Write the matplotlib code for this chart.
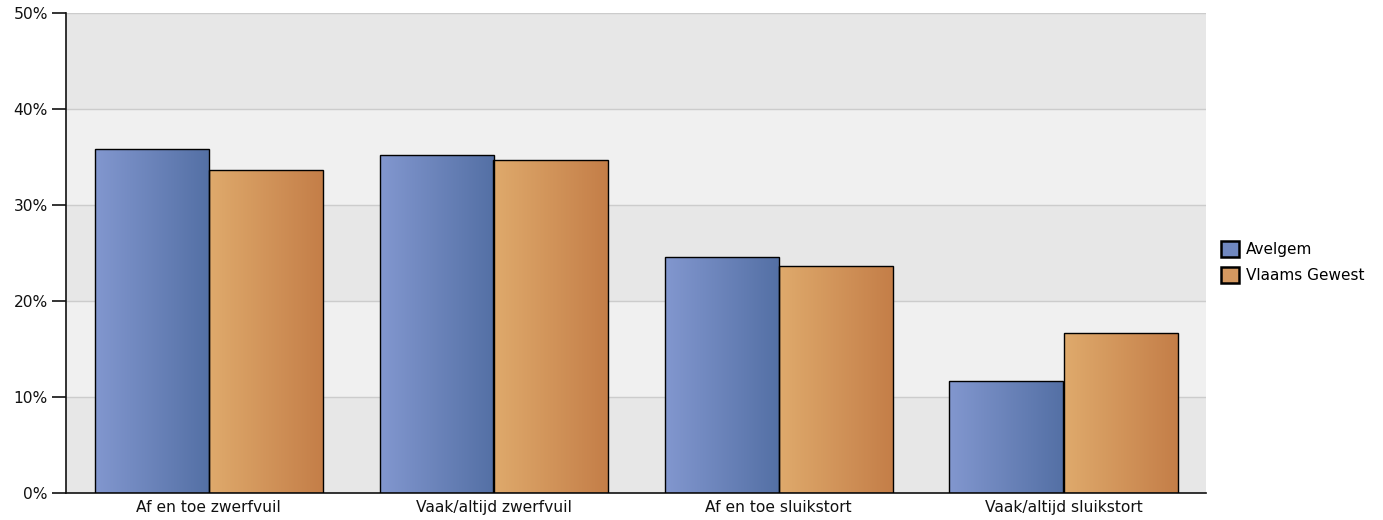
import matplotlib
matplotlib.use("Agg")
import matplotlib.pyplot as plt
import numpy as np
from matplotlib.colors import LinearSegmentedColormap
from matplotlib.patches import Patch

categories = ["Af en toe zwerfvuil", "Vaak/altijd zwerfvuil", "Af en toe sluikstort", "Vaak/altijd sluikstort"]
avelgem = [35.8, 35.2, 24.6, 11.7]
vlaams = [33.6, 34.7, 23.6, 16.7]
series_names = ["Avelgem", "Vlaams Gewest"]
yticks = [0, 10, 20, 30, 40, 50]
ytick_labels = ["0%", "10%", "20%", "30%", "40%", "50%"]

fig = plt.figure(figsize=(13.83, 5.2), dpi=100)
ax = fig.add_axes([66/1383, 1-493/520, (1206-66)/1383, (493-13)/520])

ax.set_xlim(-0.5, 3.5)
ax.set_ylim(0, 50)

# background bands
for i in range(5):
    ax.axhspan(i*10, (i+1)*10, color="#e7e7e7" if i % 2 == 0 else "#f0f0f0", zorder=0, lw=0)
for y in yticks[1:]:
    ax.axhline(y, color="#cccccc", lw=1, zorder=0.5)

x = np.arange(len(categories))
w = 0.4
cmap_b = LinearSegmentedColormap.from_list("b", ["#8297cf", "#5470a5"])
cmap_o = LinearSegmentedColormap.from_list("o", ["#dfaa6c", "#c47e48"])
grad = np.linspace(0, 1, 256).reshape(1, -1)

for vals, off, cm in [(avelgem, -w/2, cmap_b), (vlaams, w/2, cmap_o)]:
    bars = ax.bar(x + off, vals, width=w, facecolor="none", edgecolor="#000000", lw=1.0, zorder=3)
    for b in bars:
        x0, y0 = b.get_x(), b.get_y()
        im = ax.imshow(grad, cmap=cm, aspect="auto", extent=[x0, x0 + b.get_width(), y0, y0 + b.get_height()], zorder=2)
        im.set_clip_path(b)

ax.set_xlim(-0.5, 3.5)
ax.set_ylim(0, 50)
ax.set_xticks(x)
ax.set_xticklabels(categories, fontsize=11.2, color="#111111")
ax.tick_params(axis="x", length=0, pad=5)
ax.set_yticks(yticks)
ax.set_yticklabels(ytick_labels, fontsize=11.2, color="#111111")
ax.tick_params(axis="y", length=10, width=1.2, color="#111111", pad=3)
for s in ["top", "right"]:
    ax.spines[s].set_visible(False)
ax.spines["left"].set_color("#111111")
ax.spines["bottom"].set_color("#111111")
ax.spines["left"].set_linewidth(1.2)
ax.spines["bottom"].set_linewidth(1.2)

handles = [Patch(facecolor="#7088c0", edgecolor="#000000", lw=1.8),
           Patch(facecolor="#d49860", edgecolor="#000000", lw=1.8)]
fig.legend(handles, series_names, loc="center left", bbox_to_anchor=(1207/1383, 1-262/520),
           frameon=False, fontsize=11, handlelength=1.2, handleheight=1.3, handletextpad=0.45,
           labelspacing=0.6)

fig.savefig("out.png", dpi=100)
